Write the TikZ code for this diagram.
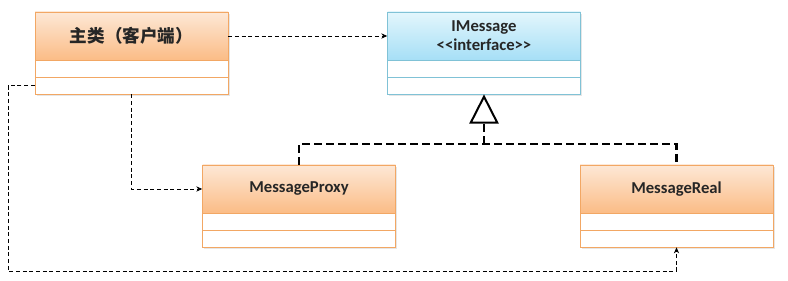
\documentclass[tikz,border=0pt]{standalone}
\usepackage{fontspec}
\setmainfont{Carlito}
\newfontfamily\cjk{Noto Sans CJK SC}
\usetikzlibrary{positioning,arrows.meta,shadows}

\definecolor{orgtop}{HTML}{FDE8D6}
\definecolor{orgbot}{HTML}{FBBC86}
\definecolor{orgline}{HTML}{F2A764}
\definecolor{bluetop}{HTML}{E3F6FC}
\definecolor{bluebot}{HTML}{A6DFF6}
\definecolor{blueline}{HTML}{80C2D6}

\tikzset{
  boxshadow/.style={drop shadow={shadow xshift=1.2pt, shadow yshift=-1.2pt, opacity=0.2}},
  classhead/.style={draw, boxshadow, minimum width=144.75pt, minimum height=36pt, inner sep=2pt,
    align=center, text=black!85, font=\fontsize{12.5}{14.25}\selectfont\bfseries},
  orangehead/.style={classhead, draw=orgline, top color=orgtop, bottom color=orgbot},
  bluehead/.style={classhead, draw=blueline, top color=bluetop, bottom color=bluebot},
  classrow/.style={draw, boxshadow, fill=white, minimum width=144.75pt, minimum height=12.4pt, inner sep=0pt},
  dep/.style={densely dashed, line width=0.6pt, -{Stealth[length=4.5pt,width=4pt]}},
  realize/.style={dash pattern=on 6pt off 3pt, line width=2pt},
}

\begin{document}
\begin{tikzpicture}[x=0.75pt, y=-0.75pt]
    \useasboundingbox (0,0) rectangle (788,281);

    % classes: header with two empty compartments under it
    \node (main) at (131.5,36) [orangehead] {\cjk\fontsize{13.2}{15}\selectfont 主类（客户端）};
    \node (main1) [classrow, draw=orgline, below=0pt of main] {};
    \node (main2) [classrow, draw=orgline, below=0pt of main1] {};

    \node (imsg) at (484,36) [bluehead] {IMessage\\{<}{<}interface{>}{>}};
    \node (imsg1) [classrow, draw=blueline, below=0pt of imsg] {};
    \node (imsg2) [classrow, draw=blueline, below=0pt of imsg1] {};

    \node (proxy) at (299,189) [orangehead] {MessageProxy};
    \node (proxy1) [classrow, draw=orgline, below=0pt of proxy] {};
    \node (proxy2) [classrow, draw=orgline, below=0pt of proxy1] {};

    \node (real) at (676.5,189) [orangehead] {MessageReal};
    \node (real1) [classrow, draw=orgline, below=0pt of real] {};
    \node (real2) [classrow, draw=orgline, below=0pt of real1] {};

    % both implementations realize the interface
    \coordinate (jn) at (484,144);
    \draw[realize] (proxy.north) |- (jn) -| (real.north);
    \draw[realize, -{Triangle[open, length=22pt, width=22pt, line width=1.5pt]}] (jn) -- (imsg2.south);

    % dependencies of the client
    \coordinate (loop) at (8,271);
    \draw[dep] (main.east) -- (imsg.west);
    \draw[dep] (main2.south) |- (proxy.west);
    \draw[dep] (main2.west) -| (loop) -| (real2.south);
\end{tikzpicture}
\end{document}
